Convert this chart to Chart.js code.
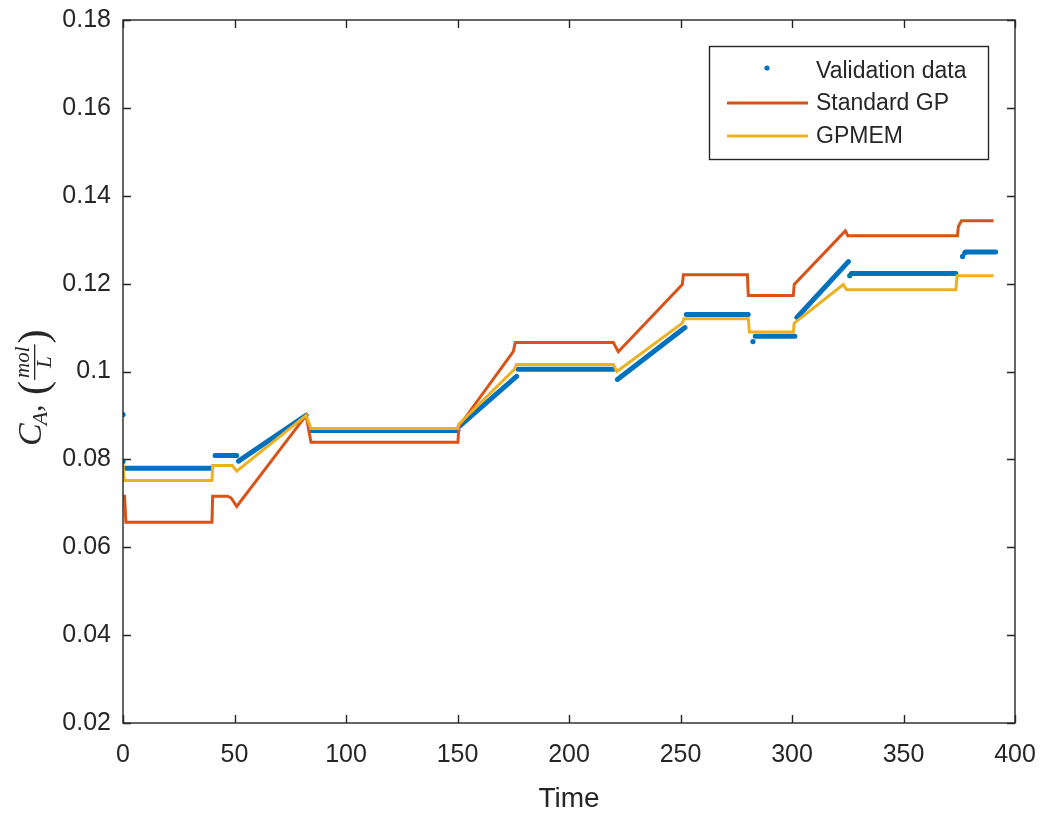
<!DOCTYPE html>
<html>
<head>
<meta charset="utf-8">
<script src="https://cdn.jsdelivr.net/npm/chart.js@4.4.1/dist/chart.umd.min.js"></script>
<style>
  html, body { margin: 0; padding: 0; background: #ffffff; }
  #wrap { width: 1043px; height: 816px; position: relative; }
</style>
</head>
<body>
<div id="wrap"><canvas id="c" width="1043" height="816"></canvas></div>
<script>
// ---------------- data ----------------
const xTicks = [0, 50, 100, 150, 200, 250, 300, 350, 400];
const yTicks = [0.02, 0.04, 0.06, 0.08, 0.1, 0.12, 0.14, 0.16, 0.18];
const seriesNames = ['Validation data', 'Standard GP', 'GPMEM'];

// validation data: dense sample dots, described as runs (null = gap between runs)
const validationTime  = [0.5, 39.8, null, 41.3, 51.0, null, 51.8, 82.1, null, 84.3, 150.2, null, 150.8, 176.5, null, 177.2, 219.9, null, 221.7, 252.0, null, 252.6, 280.4, null, 283.5, 301.3, null, 302.2, 325.3, null, 326.6, 373.5, null, 377.8, 391.3];
const validationValue = [0.0780, 0.0780, null, 0.0809, 0.0809, null, 0.0796, 0.0900, null, 0.0866, 0.0866, null, 0.0875, 0.0989, null, 0.1005, 0.1005, null, 0.0982, 0.1100, null, 0.1130, 0.1130, null, 0.1080, 0.1080, null, 0.1123, 0.1250, null, 0.1223, 0.1223, null, 0.1272, 0.1272];
// isolated validation dots
const outlierTime  = [0, 0, 282.5, 325.9, 376.5, 377.5];
const outlierValue = [0.0902, 0.0795, 0.1068, 0.1218, 0.1262, 0.1270];

const standardGPTime  = [0, 0.7, 1.3, 39.9, 40.2, 47, 48.5, 51, 82.1, 84.3, 150.2, 150.6, 175, 175.9, 219.9, 222.1, 250.8, 251.3, 280, 280.4, 300.6, 301, 323.9, 325, 374.2, 374.6, 376, 390.4];
const standardGPValue = [0.0716, 0.0716, 0.0657, 0.0657, 0.0716, 0.0716, 0.0712, 0.0693, 0.0900, 0.0839, 0.0839, 0.0875, 0.1045, 0.1066, 0.1066, 0.1045, 0.1198, 0.1220, 0.1220, 0.1173, 0.1173, 0.1198, 0.1320, 0.1309, 0.1309, 0.1330, 0.1343, 0.1343];

const gpmemTime  = [0, 0.5, 39.9, 40.2, 49, 51, 82.1, 84.3, 150.2, 150.6, 175.5, 176.5, 219.9, 221.5, 250.8, 251.5, 280.4, 280.9, 300.6, 301, 323, 324.5, 373.5, 374, 390.4];
const gpmemValue = [0.0790, 0.0752, 0.0752, 0.0786, 0.0786, 0.0773, 0.0900, 0.0870, 0.0870, 0.0880, 0.1005, 0.1016, 0.1016, 0.1000, 0.1110, 0.1120, 0.1120, 0.1090, 0.1090, 0.1110, 0.1198, 0.1186, 0.1186, 0.1218, 0.1218];

// ---------------- helpers ----------------
function pairs(xs, ys) {
  return xs.map((x, i) => ({ x: x === null ? NaN : x, y: ys[i] }));
}
const BLUE = '#0072BD', RED = '#D95319', YEL = '#EDB120', AX = '#262626';
const SANS = '"Liberation Sans", Arial, sans-serif';
const SERIF = '"Liberation Serif", "Times New Roman", serif';

// frame with inward ticks (MATLAB box style)
const framePlugin = {
  id: 'frame',
  afterDraw(chart) {
    const { ctx, chartArea: a, scales: { x, y } } = chart;
    ctx.save();
    ctx.strokeStyle = AX;
    ctx.lineWidth = 1.4;
    ctx.strokeRect(a.left, a.top, a.right - a.left, a.bottom - a.top);
    const L = 8;
    ctx.beginPath();
    xTicks.forEach(v => {
      const px = Math.round(x.getPixelForValue(v)) + 0.5;
      ctx.moveTo(px, a.bottom); ctx.lineTo(px, a.bottom - L);
      ctx.moveTo(px, a.top); ctx.lineTo(px, a.top + L);
    });
    yTicks.forEach(v => {
      const py = Math.round(y.getPixelForValue(v)) + 0.5;
      ctx.moveTo(a.left, py); ctx.lineTo(a.left + L, py);
      ctx.moveTo(a.right, py); ctx.lineTo(a.right - L, py);
    });
    ctx.stroke();
    ctx.restore();
  }
};

// legend box drawn inside the plot area (top right)
const legendPlugin = {
  id: 'boxLegend',
  afterDraw(chart) {
    const { ctx } = chart;
    const bx = 709, by = 46, bw = 279, bh = 113;
    ctx.save();
    ctx.fillStyle = '#ffffff';
    ctx.fillRect(bx, by, bw, bh);
    ctx.strokeStyle = AX;
    ctx.lineWidth = 1.4;
    ctx.strokeRect(bx + 0.5, by + 0.5, bw, bh);
    const rows = [71, 103, 136];
    const colors = [BLUE, RED, YEL];
    ctx.font = '23px ' + SANS;
    ctx.textBaseline = 'middle';
    ctx.fillStyle = AX;
    seriesNames.forEach((name, i) => {
      const ry = rows[i];
      if (i === 0) {
        ctx.beginPath();
        ctx.fillStyle = BLUE;
        ctx.arc(767, ry - 3, 2.6, 0, Math.PI * 2);
        ctx.fill();
      } else {
        ctx.beginPath();
        ctx.strokeStyle = colors[i];
        ctx.lineWidth = 3;
        ctx.moveTo(727, ry); ctx.lineTo(808, ry);
        ctx.stroke();
      }
      ctx.fillStyle = AX;
      ctx.fillText(name, 816, ry + 1);
    });
    ctx.restore();
  }
};

// y axis title: C_A, (mol / L) in italic serif, rotated
const yTitlePlugin = {
  id: 'yTitle',
  afterDraw(chart) {
    const { ctx } = chart;
    ctx.save();
    ctx.translate(41, 446);
    ctx.rotate(-Math.PI / 2);
    ctx.fillStyle = AX;
    ctx.textBaseline = 'alphabetic';
    let cx = 0;
    ctx.font = 'italic 34px ' + SERIF;
    ctx.fillText('C', cx, 0); cx += ctx.measureText('C').width;
    ctx.font = 'italic 22px ' + SERIF;
    ctx.fillText('A', cx - 2, 6); cx += ctx.measureText('A').width - 2;
    ctx.font = '30px ' + SERIF;
    ctx.fillText(',', cx, 0); cx += ctx.measureText(', ').width + 2;
    ctx.font = '42px ' + SERIF;
    ctx.fillText('(', cx, 6); cx += ctx.measureText('(').width + 1;
    // fraction
    ctx.font = 'italic 21px ' + SERIF;
    const wNum = ctx.measureText('mol').width;
    const wDen = ctx.measureText('L').width;
    const fw = Math.max(wNum, wDen) + 4;
    ctx.fillText('mol', cx + (fw - wNum) / 2, -12);
    ctx.fillText('L', cx + (fw - wDen) / 2, 10);
    ctx.fillRect(cx, -7, fw, 1.3);
    cx += fw + 1;
    ctx.font = '42px ' + SERIF;
    ctx.fillText(')', cx, 6);
    ctx.restore();
  }
};

new Chart(document.getElementById('c'), {
  type: 'scatter',
  data: {
    datasets: [
      {
        label: seriesNames[2],
        data: pairs(gpmemTime, gpmemValue),
        showLine: true, borderColor: YEL, borderWidth: 3, pointRadius: 0,
        tension: 0, spanGaps: false, order: 0
      },
      {
        label: seriesNames[1],
        data: pairs(standardGPTime, standardGPValue),
        showLine: true, borderColor: RED, borderWidth: 3, pointRadius: 0,
        tension: 0, spanGaps: false, order: 1
      },
      {
        label: seriesNames[0],
        data: pairs(validationTime, validationValue),
        showLine: true, borderColor: BLUE, borderWidth: 5, pointRadius: 0,
        borderCapStyle: 'round', tension: 0, spanGaps: false, order: 2
      },
      {
        label: seriesNames[0] + ' (isolated)',
        data: pairs(outlierTime, outlierValue),
        showLine: false, pointRadius: 2.6, pointBackgroundColor: BLUE,
        pointBorderWidth: 0, order: 3
      }
    ]
  },
  options: {
    responsive: false,
    animation: false,
    devicePixelRatio: 1,
    layout: { padding: { top: 20, right: 28, left: 0, bottom: 0 } },
    plugins: { legend: { display: false }, tooltip: { enabled: false } },
    scales: {
      x: {
        type: 'linear', min: 0, max: 400,
        afterBuildTicks(s) { s.ticks = xTicks.map(v => ({ value: v })); },
        afterFit(s) { s.height = 93; s.paddingLeft = 0; s.paddingRight = 0; },
        grid: { display: false, drawTicks: false },
        border: { display: false },
        ticks: { color: AX, font: { family: SANS, size: 25 }, padding: 17, maxRotation: 0, autoSkip: false },
        title: { display: true, text: 'Time', color: AX, font: { family: SANS, size: 28 }, padding: { top: 2, bottom: 0 } }
      },
      y: {
        type: 'linear', min: 0.02, max: 0.18,
        afterBuildTicks(s) { s.ticks = yTicks.map(v => ({ value: v })); },
        afterFit(s) { s.width = 123; s.paddingTop = 0; s.paddingBottom = 0; },
        grid: { display: false, drawTicks: false },
        border: { display: false },
        ticks: {
          color: AX, font: { family: SANS, size: 25 }, padding: 12, autoSkip: false,
          callback: v => String(Number(v.toFixed(2)))
        }
      }
    }
  },
  plugins: [framePlugin, legendPlugin, yTitlePlugin]
});
</script>
</body>
</html>
